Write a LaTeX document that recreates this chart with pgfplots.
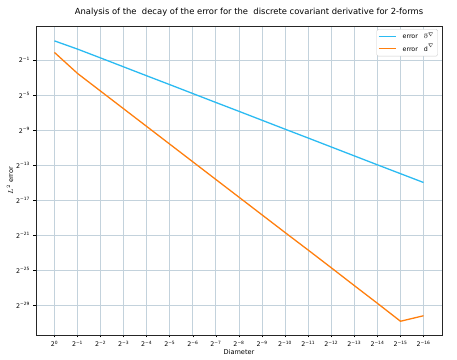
\documentclass[border=0pt]{standalone}
\usepackage{amssymb}
\usepackage{pgfplots}
\pgfplotsset{compat=1.18}
\usepackage{fontspec}
\setmainfont{DejaVu Sans}
\definecolor{cblue}{HTML}{2BBBF2}
\definecolor{corange}{HTML}{FF7F0E}
\definecolor{cgrid}{HTML}{C3D2DC}
\begin{document}
\begin{tikzpicture}
\begin{axis}[
  name=ax,
  scale only axis,
  width=406pt, height=309pt,
  xmin=-0.8, xmax=16.8,
  ymin=-32.4, ymax=2.9,
  xtick={0,1,...,16},
  xticklabels={2\textsuperscript{0},2\textsuperscript{−1},2\textsuperscript{−2},2\textsuperscript{−3},2\textsuperscript{−4},2\textsuperscript{−5},2\textsuperscript{−6},2\textsuperscript{−7},2\textsuperscript{−8},2\textsuperscript{−9},2\textsuperscript{−10},2\textsuperscript{−11},2\textsuperscript{−12},2\textsuperscript{−13},2\textsuperscript{−14},2\textsuperscript{−15},2\textsuperscript{−16}},
  ytick={-29,-25,-21,-17,-13,-9,-5,-1},
  yticklabels={2\textsuperscript{−29},2\textsuperscript{−25},2\textsuperscript{−21},2\textsuperscript{−17},2\textsuperscript{−13},2\textsuperscript{−9},2\textsuperscript{−5},2\textsuperscript{−1}},
  tick label style={font=\fontsize{6.3}{7}\selectfont},
  tick align=outside,
  major tick length=2.5pt,
  tick style={black, line width=0.6pt},
  xtick pos=bottom, ytick pos=left,
  grid=major,
  major grid style={cgrid, line width=1pt},
  axis line style={black!85, line width=0.9pt},
  title={Analysis of the\ \ decay of the error for the\ \ discrete covariant derivative for 2-forms},
  title style={font=\fontsize{8.4}{9}\selectfont, at={(axis description cs:0.5,1)}, anchor=south, yshift=0pt, xshift=10pt},
  xlabel={Diameter},
  xlabel style={font=\fontsize{6.6}{7.5}\selectfont, at={(axis description cs:0.5,0)}, anchor=center, yshift=-17pt},
  ylabel={$L^2$ error},
  ylabel style={font=\fontsize{6.6}{7.5}\selectfont, at={(axis description cs:0,0.5)}, anchor=center, yshift=26pt},
  legend style={at={(axis description cs:0.99,0.99)}, anchor=north east, font=\fontsize{6.3}{7.5}\selectfont, draw=black!20, rounded corners=1.5pt, inner sep=1.5pt},
  legend cell align=left,
]
\addlegendimage{cblue, line width=1.3pt}
\addlegendentry{\ \ error\ \ \ $\eth^{\nabla}$}
\addlegendimage{corange, line width=1.3pt}
\addlegendentry{\ \ error\ \ \ $\mathrm{d}^{\nabla}$}
\addplot[cblue, line width=1.3pt, forget plot] coordinates {
(0,1.20) (1,0.26) (2,-0.75) (3,-1.77) (4,-2.79) (5,-3.80) (6,-4.82) (7,-5.84) (8,-6.85) (9,-7.87) (10,-8.89) (11,-9.90) (12,-10.92) (13,-11.94) (14,-12.96) (15,-13.97) (16,-14.98)
};
\addplot[corange, line width=1.3pt, forget plot] coordinates {
(0,-0.12) (1,-2.52) (2,-4.54) (3,-6.56) (4,-8.58) (5,-10.60) (6,-12.62) (7,-14.64) (8,-16.66) (9,-18.68) (10,-20.70) (11,-22.70) (12,-24.72) (13,-26.76) (14,-28.78) (15,-30.83) (16,-30.20)
};
\end{axis}
\pgfresetboundingbox
\path[use as bounding box] ([shift={(-36pt,-25pt)}]ax.south west) rectangle ([shift={(15pt,26pt)}]ax.north east);
\end{tikzpicture}
\end{document}
